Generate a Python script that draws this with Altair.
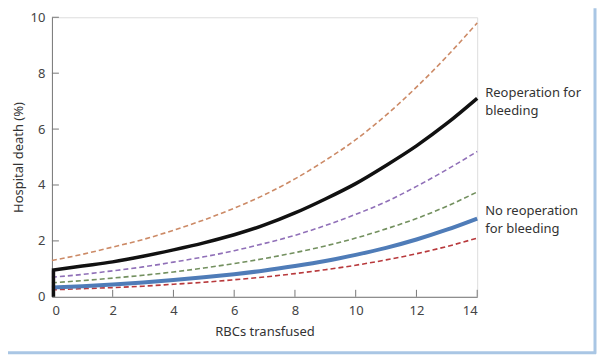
import altair as alt
import pandas as pd

x_vals = list(range(0, 15))
reop = [0.95, 1.1, 1.25, 1.45, 1.68, 1.93, 2.22, 2.57, 3.0, 3.5, 4.05, 4.7, 5.4, 6.2, 7.1]
reop_hi = [1.3, 1.52, 1.78, 2.05, 2.38, 2.75, 3.17, 3.65, 4.22, 4.88, 5.62, 6.5, 7.5, 8.6, 9.8]
reop_lo = [0.7, 0.8, 0.93, 1.07, 1.24, 1.43, 1.65, 1.91, 2.2, 2.55, 2.95, 3.4, 3.95, 4.55, 5.2]
noreop_hi = [0.5, 0.58, 0.67, 0.77, 0.89, 1.03, 1.19, 1.37, 1.58, 1.82, 2.1, 2.43, 2.8, 3.24, 3.75]
noreop = [0.33, 0.38, 0.44, 0.51, 0.6, 0.7, 0.81, 0.94, 1.1, 1.28, 1.5, 1.75, 2.05, 2.4, 2.8]
noreop_lo = [0.25, 0.29, 0.33, 0.38, 0.45, 0.52, 0.61, 0.71, 0.83, 0.97, 1.13, 1.32, 1.54, 1.8, 2.1]

x_ticks = [2, 4, 6, 8, 10, 12, 14]
y_ticks = [2, 4, 6, 8, 10]
labels = [["Reoperation for", "bleeding"], ["No reoperation", "for bleeding"]]

FONT = "Noto Sans"
W, H = 426, 280

xs = alt.Scale(domain=[0, 14], nice=False)
ys = alt.Scale(domain=[0, 10], nice=False)

def series(vals, name):
    return pd.DataFrame({"x": x_vals, "y": vals, "s": name})

def line(vals, name, color, width, dash=None):
    kw = dict(color=color, strokeWidth=width, clip=False, interpolate="monotone")
    if dash:
        kw["strokeDash"] = dash
    return alt.Chart(series(vals, name)).mark_line(**kw).encode(
        x=alt.X("x:Q", scale=xs, axis=alt.Axis(
            values=[0] + x_ticks, ticks=False, domainColor="#777", labelColor="#444",
            labelFont=FONT, labelFontSize=13, labelPadding=8, grid=False,
            title="RBCs transfused", titleFont=FONT, titleFontSize=13,
            titleFontWeight="normal", titleColor="#333", titlePadding=8)),
        y=alt.Y("y:Q", scale=ys, axis=alt.Axis(
            values=[0] + y_ticks, ticks=False, domainColor="#777", labelColor="#444",
            labelFont=FONT, labelFontSize=13, labelPadding=7, grid=False,
            title="Hospital death (%)", titleFont=FONT, titleFontSize=13,
            titleFontWeight="normal", titleColor="#333", titlePadding=5)),
    )

layers = [
    line(reop_hi, "reop_hi", "#cc8a66", 1.6, [5, 3]),
    line(reop_lo, "reop_lo", "#9070b8", 1.6, [5, 3]),
    line(noreop_hi, "noreop_hi", "#73905f", 1.6, [5, 3]),
    line(noreop_lo, "noreop_lo", "#b8393c", 1.6, [5, 3]),
    line(noreop, "noreop", "#4f7cb8", 4),
    line(reop, "reop", "#111111", 3.5),
]

# vertical segment at x=0 up to first value of black curve
start = pd.DataFrame({"x": [0.05], "y": [0], "y2": [reop[0]]})
vseg = alt.Chart(start).mark_rule(color="#111111", strokeWidth=3.5).encode(
    x=alt.X("x:Q", scale=xs), y=alt.Y("y:Q", scale=ys), y2="y2:Q")

# inward ticks
xt = alt.Chart(pd.DataFrame({"x": x_ticks})).mark_rule(color="#777", strokeWidth=1).encode(
    x=alt.X("x:Q", scale=xs), y=alt.value(H), y2=alt.value(H - 7))
yt = alt.Chart(pd.DataFrame({"y": y_ticks})).mark_rule(color="#777", strokeWidth=1).encode(
    y=alt.Y("y:Q", scale=ys), x=alt.value(0), x2=alt.value(7))

lab_df = pd.DataFrame({"x": [14, 14], "y": [reop[-1], noreop[-1]], "t": labels})
lab1 = alt.Chart(lab_df.iloc[[0]]).mark_text(
    align="left", baseline="top", dx=8, dy=-11, font=FONT, fontSize=13,
    color="#333", lineHeight=18).encode(x=alt.X("x:Q", scale=xs), y=alt.Y("y:Q", scale=ys), text="t")
lab2 = alt.Chart(lab_df.iloc[[1]]).mark_text(
    align="left", baseline="top", dx=8, dy=-14, font=FONT, fontSize=13,
    color="#333", lineHeight=18).encode(x=alt.X("x:Q", scale=xs), y=alt.Y("y:Q", scale=ys), text="t")

# light-blue picture frame (right and bottom edges)
frame_r = alt.Chart(pd.DataFrame({"a": [0]})).mark_rule(
    color="#a9c6e4", strokeWidth=3, clip=False).encode(
    x=alt.value(544), y=alt.value(-9), y2=alt.value(337))
frame_b = alt.Chart(pd.DataFrame({"a": [0]})).mark_rule(
    color="#a9c6e4", strokeWidth=3, clip=False).encode(
    x=alt.value(-44), x2=alt.value(545), y=alt.value(336))

chart = alt.layer(frame_r, frame_b, *layers, vseg, xt, yt, lab1, lab2).properties(
    width=W, height=H,
    autosize=alt.AutoSizeParams(type="none"),
    padding={"left": 44, "top": 9, "right": 120, "bottom": 58},
).configure_view(stroke=None).configure(background="white")

chart.save("out.html", embed_options={"renderer": "svg", "actions": False})
